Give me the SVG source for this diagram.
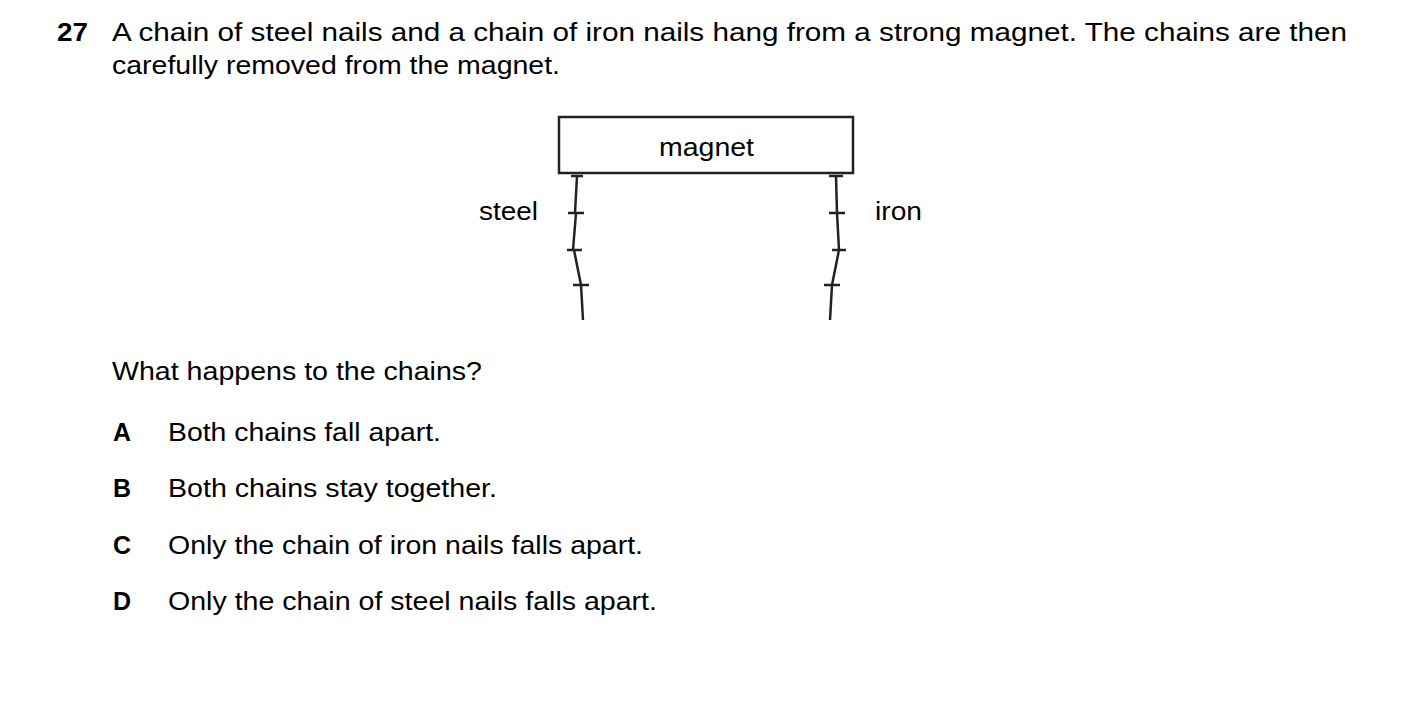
<svg xmlns="http://www.w3.org/2000/svg" width="1403" height="710" viewBox="0 0 1403 710">
<style>
text{font-family:"Liberation Sans",Arial,sans-serif;font-size:25px;fill:#000}
.b{font-weight:bold}
.n{stroke:#222;stroke-width:2.5;fill:none}
</style>
<rect width="1403" height="710" fill="#fff"/>
<text x="57" y="41" class="b" textLength="31" lengthAdjust="spacingAndGlyphs">27</text>
<text x="112" y="41" textLength="1235" lengthAdjust="spacingAndGlyphs">A chain of steel nails and a chain of iron nails hang from a strong magnet. The chains are then</text>
<text x="112" y="74" textLength="448" lengthAdjust="spacingAndGlyphs">carefully removed from the magnet.</text>
<g id="magnet"><rect x="559" y="117" width="294" height="56" fill="#fff" stroke="#222" stroke-width="2.5"/><text x="659" y="156" textLength="95" lengthAdjust="spacingAndGlyphs">magnet</text></g>
<g id="steel-chain" class="n">
<path d="M571 176H583M577 176L575 213M568 213H584M576 213L573 250M567 250H582M574 250L581 285M573 285H589M581 285L583 320"/>
</g>
<g id="iron-chain" class="n">
<path d="M829 176H843M836 176L837 213M829 213H845M837 213L839 250M832 250H846M839 250L832 285M824 285H840M832 285L830 320"/>
</g>
<text x="479" y="220" textLength="59" lengthAdjust="spacingAndGlyphs">steel</text>
<text x="875" y="220" textLength="47" lengthAdjust="spacingAndGlyphs">iron</text>
<text x="112" y="380" textLength="370" lengthAdjust="spacingAndGlyphs">What happens to the chains?</text>
<text x="113" y="441" class="b">A</text><text x="168" y="441" textLength="273" lengthAdjust="spacingAndGlyphs">Both chains fall apart.</text>
<text x="113" y="497" class="b">B</text><text x="168" y="497" textLength="329" lengthAdjust="spacingAndGlyphs">Both chains stay together.</text>
<text x="113" y="554" class="b">C</text><text x="168" y="554" textLength="475" lengthAdjust="spacingAndGlyphs">Only the chain of iron nails falls apart.</text>
<text x="113" y="610" class="b">D</text><text x="168" y="610" textLength="489" lengthAdjust="spacingAndGlyphs">Only the chain of steel nails falls apart.</text>
</svg>
